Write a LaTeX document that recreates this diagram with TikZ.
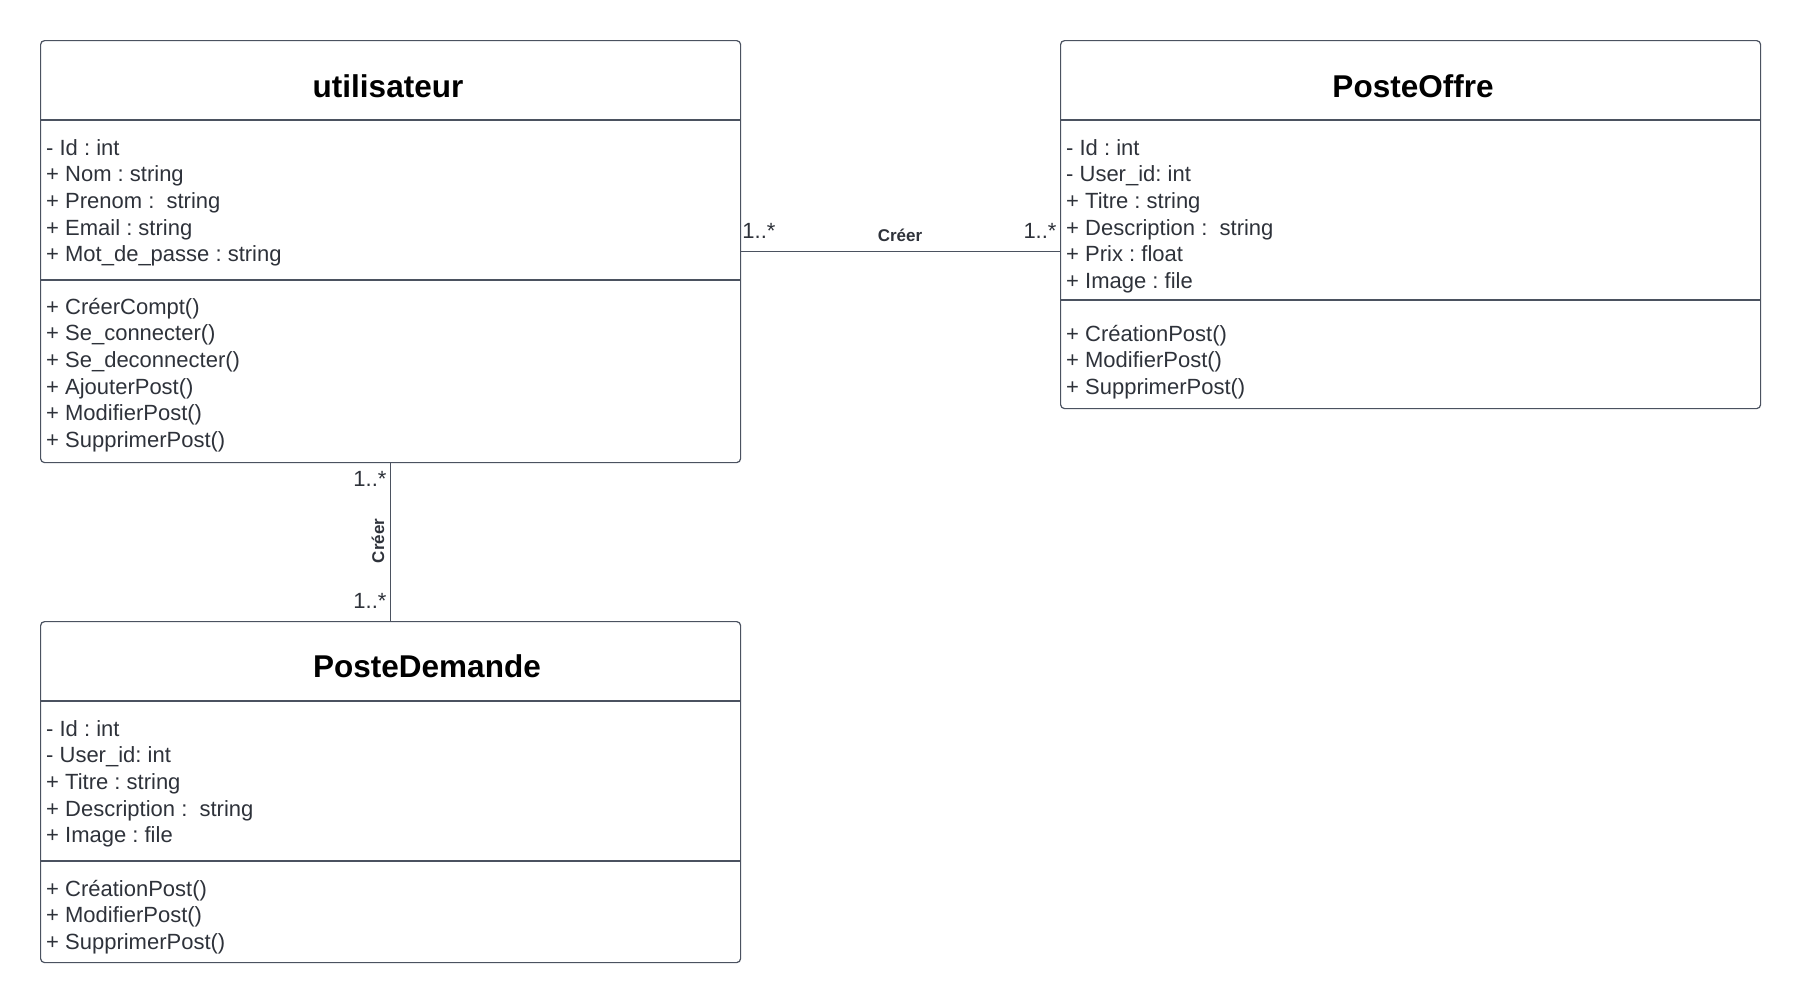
\documentclass[tikz,border=0pt]{standalone}
\usepackage{fontspec}
\setmainfont{Liberation Sans}
\frenchspacing
\definecolor{umlline}{HTML}{4B5260}
\definecolor{umltext}{HTML}{2E323A}
\tikzset{
  classbox/.style={draw=umlline, line width=1.2pt, rounded corners=4pt,
    anchor=north west, inner sep=0pt},
  sep/.style={draw=umlline, line width=1.2pt},
  classtitle/.style={font=\fontsize{31.5}{36}\selectfont\bfseries,
    text=black, anchor=base, inner sep=0pt},
  member/.style={font=\fontsize{22}{26}\selectfont, text=umltext,
    anchor=base west, inner sep=0pt},
  mult/.style={font=\fontsize{22}{26}\selectfont, text=umltext,
    anchor=base, inner sep=0pt},
  rolename/.style={font=\fontsize{17}{20}\selectfont\bfseries,
    text=umltext, inner sep=0pt},
  assoc/.style={draw=umlline, line width=1.2pt},
}
\begin{document}
\begin{tikzpicture}[x=1pt, y=-1pt]
\useasboundingbox (0,0) rectangle (1800,1002);
% utilisateur
\node[classbox, minimum width=700pt, minimum height=422pt] (user) at (40,40) {};
\draw[sep] (40,120) -- ++(700,0);
\draw[sep] (40,280) -- ++(700,0);
\node[classtitle] (usertitle) at (388,97) {utilisateur};
\foreach \m [count=\i from 0] in {- Id : int, + Nom : string,
    + Prenom :\ \ string, + Email : string, + Mot\_de\_passe : string}
  \node[member] (ua\i) at (46,{155+26.67*\i}) {\m};
\foreach \m [count=\i from 0] in {+ CréerCompt(), + Se\_connecter(),
    + Se\_deconnecter(), + AjouterPost(), + ModifierPost(), + SupprimerPost()}
  \node[member] (um\i) at (46,{314+26.67*\i}) {\m};
% PosteOffre
\node[classbox, minimum width=700pt, minimum height=368pt] (offre) at (1060,40) {};
\draw[sep] (1060,120) -- ++(700,0);
\draw[sep] (1060,300) -- ++(700,0);
\node[classtitle] (offretitle) at (1413,97) {PosteOffre};
\foreach \m [count=\i from 0] in {- Id : int, - User\_id: int, + Titre : string,
    + Description :\ \ string, + Prix : float, + Image : file}
  \node[member] (oa\i) at (1066,{155+26.67*\i}) {\m};
\foreach \m [count=\i from 0] in {+ CréationPost(), + ModifierPost(),
    + SupprimerPost()}
  \node[member] (om\i) at (1066,{341+26.67*\i}) {\m};
% PosteDemande
\node[classbox, minimum width=700pt, minimum height=341pt] (demande) at (40,621) {};
\draw[sep] (40,701) -- ++(700,0);
\draw[sep] (40,861) -- ++(700,0);
\node[classtitle] (demandetitle) at (427,677) {PosteDemande};
\foreach \m [count=\i from 0] in {- Id : int, - User\_id: int, + Titre : string,
    + Description :\ \ string, + Image : file}
  \node[member] (da\i) at (46,{736+26.67*\i}) {\m};
\foreach \m [count=\i from 0] in {+ CréationPost(), + ModifierPost(),
    + SupprimerPost()}
  \node[member] (dm\i) at (46,{896+26.67*\i}) {\m};
% associations
\draw[assoc] (user.east) -- (user.east -| offre.west);
\node[mult] (m1) at (759,238) {1..*};
\node[rolename, anchor=base] (r1) at (900,241) {Créer};
\node[mult] (m2) at (1040,238) {1..*};
\draw[assoc] (user.south) -- (user.south |- demande.north);
\node[mult] (m3) at (370,486) {1..*};
\node[rolename, rotate=90] (r2) at (378,541) {Créer};
\node[mult] (m4) at (370,608) {1..*};
\end{tikzpicture}
\end{document}
